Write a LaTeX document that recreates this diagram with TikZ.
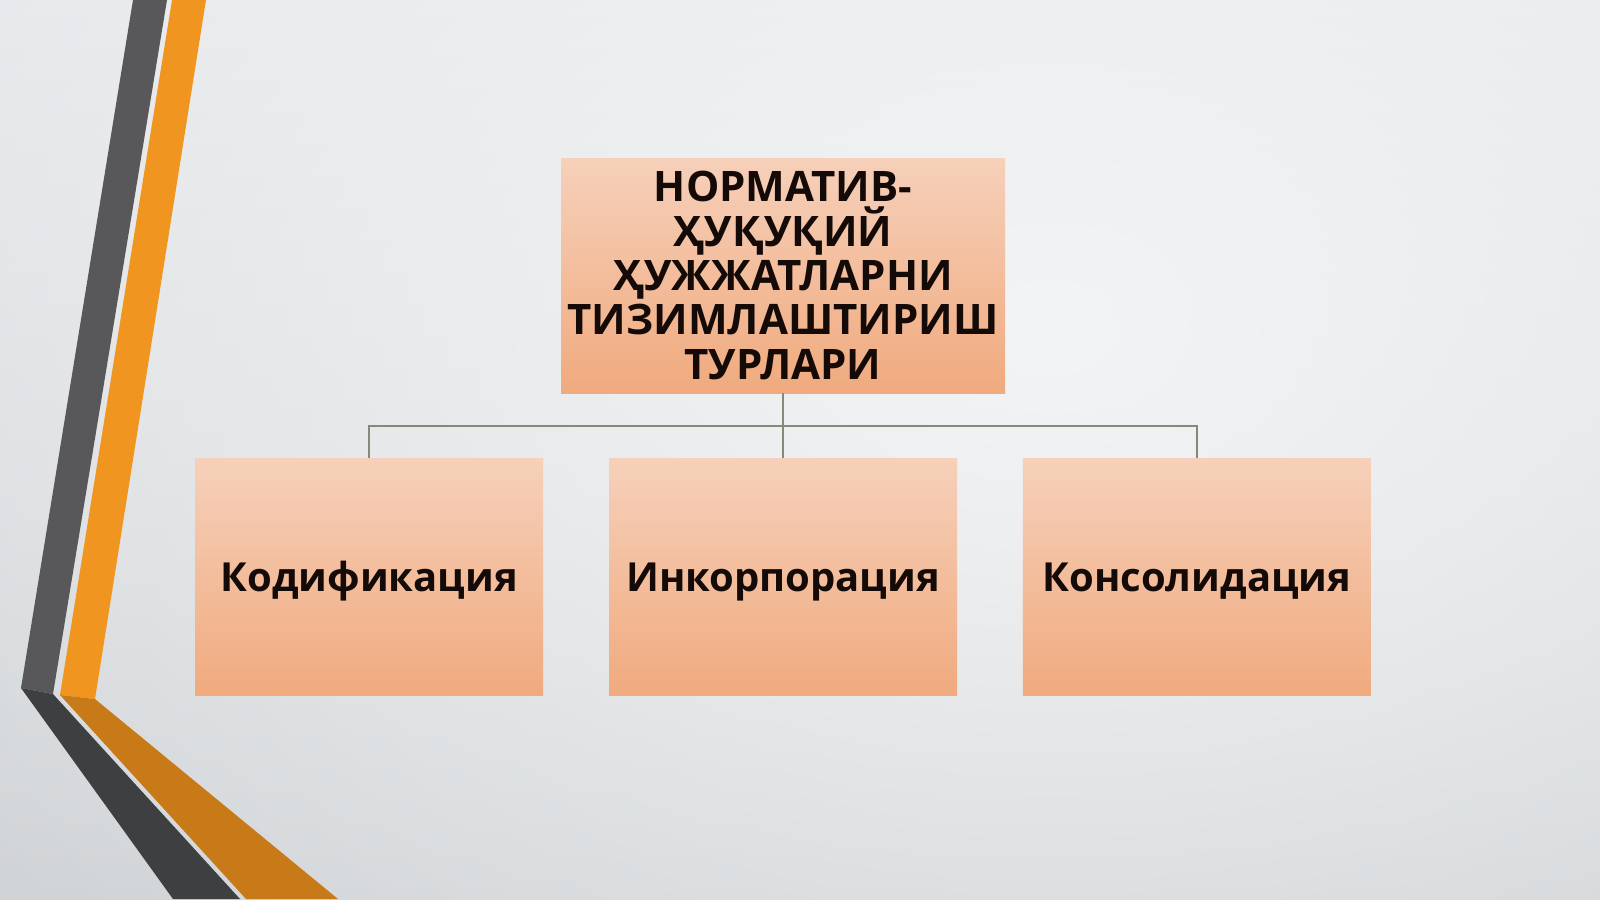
\documentclass[tikz,border=0pt]{standalone}
\usepackage{fontspec}
\setmainfont{Open Sans}
\usepackage{tikz}
\usetikzlibrary{positioning,calc,fadings}
\definecolor{bgtop}{RGB}{226,228,231}
\definecolor{bgbot}{RGB}{196,200,203}
\definecolor{bglight}{RGB}{243,244,245}
\definecolor{bandgray}{RGB}{88,88,90}
\definecolor{banddark}{RGB}{62,63,65}
\definecolor{bandorange}{RGB}{240,150,32}
\definecolor{bandrust}{RGB}{200,122,24}
\definecolor{peachtop}{RGB}{246,208,186}
\definecolor{peachbot}{RGB}{240,170,126}
\definecolor{linkgreen}{RGB}{128,140,118}
\definecolor{inkdark}{RGB}{20,10,8}

\tikzfading[name=glow, inner color=transparent!0, outer color=transparent!100]

\tikzset{
	card/.style={rectangle, inner sep=0pt, top color=peachtop, bottom color=peachbot,
		text=inkdark, align=center},
	kind/.style={card, minimum width=174pt, minimum height=118.5pt,
		font=\bfseries\fontsize{20}{22}\selectfont, text height=14.3pt, text depth=0pt},
	head/.style={card, minimum width=222pt, minimum height=117.5pt, text width=222pt,
		font=\bfseries\fontsize{21}{22.2}\selectfont},
	link/.style={linkgreen, line width=0.75pt}
}

\begin{document}
\begin{tikzpicture}[x=0.5pt,y=-0.5pt,node distance=32.5pt]
	%background
	\useasboundingbox (0,0) rectangle (1600,899);
	\begin{scope}
		\clip (0,0) rectangle (1600,899);
		\shade[top color=bgtop, bottom color=bgbot] (0,0) rectangle (1600,899);
		\fill[bglight, path fading=glow] (1050,330) ellipse [x radius=1800, y radius=1200];
	\end{scope}
	
	%bands
	\fill[bandgray]   (133,0)--(167,0)--(53,694)--(21,688)--cycle;
	\fill[banddark]   (21,688)--(53,694)--(240,899)--(173,899)--cycle;
	\fill[bandorange] (172,0)--(206,0)--(95,699)--(60,695)--cycle;
	\fill[bandrust]   (60,695)--(95,699)--(338,899)--(246,899)--cycle;
	
	%boxes
	\node[head] (kinds) at (783,275.5) {НОРМАТИВ-\\ҲУҚУҚИЙ\\ҲУЖЖАТЛАРНИ\\ТИЗИМЛАШТИРИШ\\ТУРЛАРИ};
	\node[kind,below=of kinds] (incorp) {Инкорпорация};
	\node[kind,left=of incorp] (codif) {Кодификация};
	\node[kind,right=of incorp] (consol) {Консолидация};
	
	%links
	\coordinate (split) at ($(kinds.south)!0.5!(incorp.north)$);
	\draw[link] (kinds.south) -- (incorp.north);			%kinds--incorp
	\draw[link] (codif.north) |- (split) -| (consol.north);	%codif--consol
\end{tikzpicture}
\end{document}
